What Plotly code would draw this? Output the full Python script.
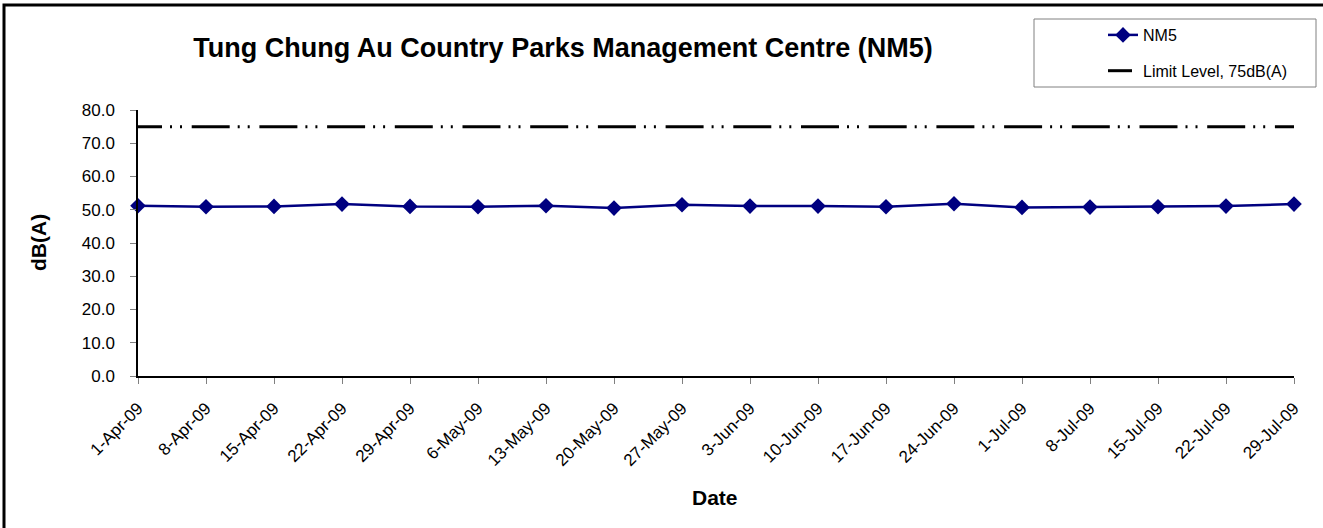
import plotly.graph_objects as go

dates = ["2009-04-01", "2009-04-08", "2009-04-15", "2009-04-22", "2009-04-29",
         "2009-05-06", "2009-05-13", "2009-05-20", "2009-05-27", "2009-06-03",
         "2009-06-10", "2009-06-17", "2009-06-24", "2009-07-01", "2009-07-08",
         "2009-07-15", "2009-07-22", "2009-07-29"]
tick_labels = ["1-Apr-09", "8-Apr-09", "15-Apr-09", "22-Apr-09", "29-Apr-09",
               "6-May-09", "13-May-09", "20-May-09", "27-May-09", "3-Jun-09",
               "10-Jun-09", "17-Jun-09", "24-Jun-09", "1-Jul-09", "8-Jul-09",
               "15-Jul-09", "22-Jul-09", "29-Jul-09"]
nm5 = [51.2, 50.9, 51.0, 51.7, 51.0, 50.9, 51.2, 50.5, 51.5, 51.1,
       51.1, 50.9, 51.8, 50.7, 50.8, 50.9, 51.1, 51.7]
limit = [75.0] * len(dates)

W, H = 1323, 528
L, R, T, B = 138, 29, 110, 152
pw, ph = W - L - R, H - T - B

def px_x(p):
    return (p - L) / pw

def px_y(p):
    return (H - B - p) / ph

fig = go.Figure()
fig.add_trace(go.Scatter(
    x=dates, y=nm5, name="NM5", mode="lines+markers",
    line=dict(color="#000080", width=2.5),
    marker=dict(symbol="diamond", size=12, color="#000080"),
    legendgroup="a", cliponaxis=False,
))
fig.add_trace(go.Scatter(
    x=dates, y=limit, name="Limit Level, 75dB(A)", mode="lines",
    line=dict(color="black", width=3,
              dash="24px,8px,2px,8px,2px,9.7px,14px,0px"),
    legendgroup="b",
))

font = "Arial, Liberation Sans, sans-serif"
fig.update_layout(
    width=W, height=H,
    margin=dict(l=L, r=R, t=T, b=B),
    paper_bgcolor="white", plot_bgcolor="white",
    font=dict(family=font, color="black"),
    title=dict(text="<b>Tung Chung Au Country Parks Management Centre (NM5)</b>",
               x=563 / W, xanchor="center", y=1 - 48 / H, yanchor="middle",
               font=dict(size=27, family=font, color="black")),
    showlegend=True,
    legend=dict(x=px_x(1103), y=px_y(18), xanchor="left", yanchor="top",
                bgcolor="rgba(0,0,0,0)", borderwidth=0,
                font=dict(size=16, family=font, color="black"),
                tracegroupgap=12),
    xaxis=dict(
        type="date", range=[dates[0], dates[-1]],
        tickmode="array", tickvals=dates, ticktext=tick_labels,
        tickangle=-45, tickfont=dict(size=17, family=font, color="black"),
        showline=True, linecolor="black", linewidth=1.5,
        ticks="outside", ticklen=6, tickcolor="#808080",
        ticklabelstandoff=8,
        showgrid=False, zeroline=False,
    ),
    yaxis=dict(
        range=[0, 80], dtick=10, tickformat=".1f",
        tickfont=dict(size=17, family=font, color="black"),
        showline=True, linecolor="black", linewidth=1.5,
        ticks="outside", ticklen=6, tickcolor="#808080",
        ticklabelstandoff=12,
        showgrid=False, zeroline=False,
    ),
    shapes=[
        dict(type="rect", xref="paper", yref="paper",
             x0=px_x(4), x1=px_x(1400), y0=px_y(600), y1=px_y(5),
             line=dict(color="black", width=3), fillcolor="rgba(0,0,0,0)", layer="below"),
        dict(type="rect", xref="paper", yref="paper",
             x0=px_x(1034), x1=px_x(1316), y0=px_y(87), y1=px_y(19),
             line=dict(color="#808080", width=1), fillcolor="white", layer="below"),
    ],
    annotations=[
        dict(text="<b>dB(A)</b>", xref="paper", yref="paper",
             x=px_x(38), y=px_y(243), textangle=-90, showarrow=False,
             xanchor="center", yanchor="middle",
             font=dict(size=21, family=font, color="black")),
        dict(text="<b>Date</b>", xref="paper", yref="paper",
             x=px_x(715), y=px_y(497), showarrow=False,
             xanchor="center", yanchor="middle",
             font=dict(size=21, family=font, color="black")),
    ],
)

fig.write_html("out.html",
               config={"displayModeBar": False},
               post_script="document.body.style.margin='0';document.body.style.padding='0';")
